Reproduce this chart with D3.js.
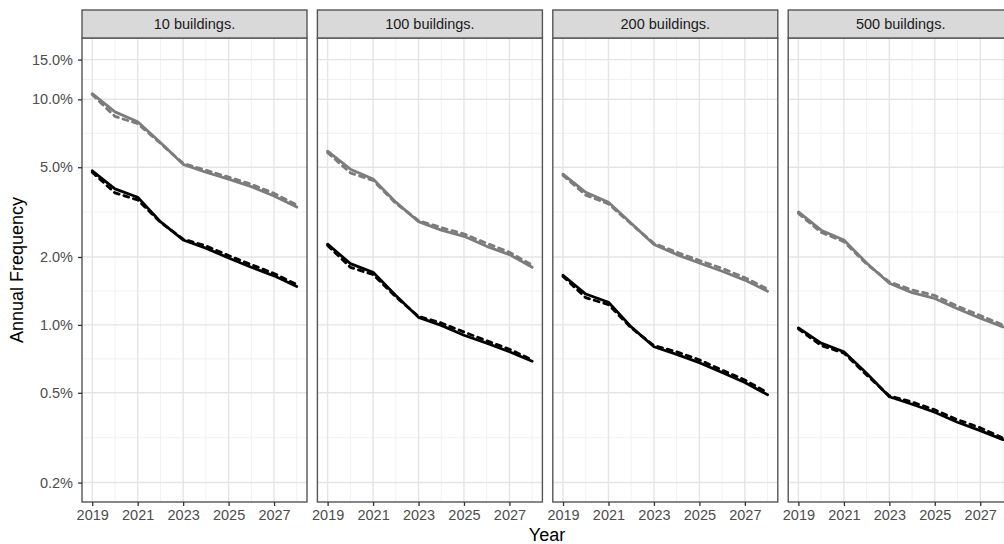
<!DOCTYPE html>
<html>
<head>
<meta charset="utf-8">
<script src="https://cdn.jsdelivr.net/npm/d3@7"></script>
<style>
  html, body { margin: 0; padding: 0; background: #fff; overflow: hidden; }
  svg { display: block; font-family: "Liberation Sans", Arial, sans-serif; }
</style>
</head>
<body>
<svg id="chart" width="1004" height="544"></svg>
<script>
// ---- data ----
const years = [2019, 2020, 2021, 2022, 2023, 2024, 2025, 2026, 2027, 2028];
const panelLabels = ["10 buildings.", "100 buildings.", "200 buildings.", "500 buildings."];
const yTickValues = [0.2, 0.5, 1, 2, 5, 10, 15];
const yTickLabels = ["0.2%", "0.5%", "1.0%", "2.0%", "5.0%", "10.0%", "15.0%"];
const xTickValues = [2019, 2021, 2023, 2025, 2027];

// annual frequency (%) per panel
const graySolid10  = [10.6, 8.8, 7.96, 6.43, 5.15, 4.75, 4.43, 4.10, 3.73, 3.33];
const grayDashed10 = [10.5, 8.4, 7.8, 6.38, 5.2, 4.85, 4.52, 4.20, 3.83, 3.40];
const blackSolid10  = [4.82, 4.01, 3.68, 2.87, 2.38, 2.19, 1.98, 1.80, 1.65, 1.48];
const blackDashed10 = [4.75, 3.85, 3.58, 2.85, 2.40, 2.24, 2.03, 1.85, 1.69, 1.51];

const graySolid100  = [5.89, 4.90, 4.43, 3.50, 2.87, 2.63, 2.47, 2.23, 2.05, 1.80];
const grayDashed100 = [5.8, 4.72, 4.37, 3.46, 2.9, 2.7, 2.53, 2.3, 2.1, 1.84];
const blackSolid100  = [2.28, 1.87, 1.71, 1.35, 1.08, 0.995, 0.90, 0.83, 0.76, 0.69];
const blackDashed100 = [2.25, 1.80, 1.67, 1.33, 1.09, 1.02, 0.93, 0.85, 0.78, 0.70];

const graySolid200  = [4.66, 3.87, 3.50, 2.82, 2.27, 2.05, 1.88, 1.73, 1.58, 1.41];
const grayDashed200 = [4.6, 3.76, 3.44, 2.8, 2.3, 2.1, 1.93, 1.78, 1.62, 1.44];
const blackSolid200  = [1.66, 1.37, 1.26, 0.98, 0.80, 0.74, 0.68, 0.615, 0.555, 0.49];
const blackDashed200 = [1.64, 1.32, 1.23, 0.97, 0.81, 0.76, 0.70, 0.63, 0.57, 0.50];

const graySolid500  = [3.17, 2.63, 2.38, 1.88, 1.53, 1.39, 1.31, 1.18, 1.07, 0.98];
const grayDashed500 = [3.12, 2.57, 2.34, 1.86, 1.55, 1.43, 1.35, 1.21, 1.10, 1.0];
const blackSolid500  = [0.97, 0.83, 0.76, 0.61, 0.48, 0.445, 0.41, 0.37, 0.34, 0.31];
const blackDashed500 = [0.96, 0.81, 0.75, 0.60, 0.485, 0.455, 0.42, 0.38, 0.35, 0.315];

const panelSeries = [
  [graySolid10, grayDashed10, blackSolid10, blackDashed10],
  [graySolid100, grayDashed100, blackSolid100, blackDashed100],
  [graySolid200, grayDashed200, blackSolid200, blackDashed200],
  [graySolid500, grayDashed500, blackSolid500, blackDashed500]
];

// ---- layout ----
const svg = d3.select("#chart");
const left0 = 82, panelW = 225, gap = 10.4;
const stripTop = 10, stripH = 28;
const pTop = stripTop + stripH, pBottom = 502;

const x = d3.scaleLinear().domain([2018.55, 2028.45]).range([0, panelW]);
const y = d3.scaleLog().domain([0.164, 18.7]).range([pBottom, pTop]);

// minor breaks (midpoints in log space, ggplot style)
const lb = yTickValues.map(Math.log10);
const bd = lb[1] - lb[0];
const ext = [lb[0] - bd, ...lb, lb[lb.length - 1] + bd];
const yMinor = [];
for (let i = 0; i < ext.length - 1; i++) {
  const v = Math.pow(10, (ext[i] + ext[i + 1]) / 2);
  if (v > y.domain()[0] && v < y.domain()[1]) yMinor.push(v);
}
const xMinor = [2020, 2022, 2024, 2026, 2028];

const seriesStyle = [
  { color: "#7c7c7c", dash: null },
  { color: "#7c7c7c", dash: "5,5" },
  { color: "#000000", dash: null },
  { color: "#000000", dash: "5,5" }
];

const line = d3.line()
  .x((d, i) => x(years[i]))
  .y(d => y(d));

panelLabels.forEach((lab, pi) => {
  const g = svg.append("g").attr("transform", `translate(${left0 + pi * (panelW + gap)},0)`);

  g.append("rect").attr("x", 0).attr("y", pTop).attr("width", panelW).attr("height", pBottom - pTop)
    .attr("fill", "#fff");

  // minor grid
  g.selectAll(".ymin").data(yMinor).enter().append("line")
    .attr("x1", 0).attr("x2", panelW).attr("y1", d => y(d)).attr("y2", d => y(d))
    .attr("stroke", "#efefef").attr("stroke-width", 0.9);
  g.selectAll(".xmin").data(xMinor).enter().append("line")
    .attr("y1", pTop).attr("y2", pBottom).attr("x1", d => x(d)).attr("x2", d => x(d))
    .attr("stroke", "#efefef").attr("stroke-width", 0.9);
  // major grid
  g.selectAll(".ymaj").data(yTickValues).enter().append("line")
    .attr("x1", 0).attr("x2", panelW).attr("y1", d => y(d)).attr("y2", d => y(d))
    .attr("stroke", "#e5e5e5").attr("stroke-width", 1.4);
  g.selectAll(".xmaj").data(xTickValues).enter().append("line")
    .attr("y1", pTop).attr("y2", pBottom).attr("x1", d => x(d)).attr("x2", d => x(d))
    .attr("stroke", "#e5e5e5").attr("stroke-width", 1.4);

  // series (dashed first, solid on top)
  [1, 3, 0, 2].forEach(si => {
    const st = seriesStyle[si];
    g.append("path").datum(panelSeries[pi][si])
      .attr("d", line)
      .attr("fill", "none")
      .attr("stroke", st.color)
      .attr("stroke-width", 2.8)
      .attr("stroke-linejoin", "round")
      .attr("stroke-linecap", "round")
      .attr("stroke-dasharray", st.dash);
  });

  // panel border
  g.append("rect").attr("x", 0).attr("y", pTop).attr("width", panelW).attr("height", pBottom - pTop)
    .attr("fill", "none").attr("stroke", "#555").attr("stroke-width", 1.4);

  // strip
  g.append("rect").attr("x", 0).attr("y", stripTop).attr("width", panelW).attr("height", stripH)
    .attr("fill", "#d9d9d9").attr("stroke", "#555").attr("stroke-width", 1.4);
  g.append("text").attr("x", panelW / 2).attr("y", stripTop + stripH / 2 + 5)
    .attr("text-anchor", "middle").attr("font-size", 14.5).attr("fill", "#1a1a1a").text(lab);

  // x axis
  const xa = g.append("g").attr("transform", `translate(0,${pBottom})`)
    .call(d3.axisBottom(x).tickValues(xTickValues).tickFormat(d3.format("d")).tickSize(4).tickPadding(4));
  xa.select(".domain").remove();
  xa.selectAll("line").attr("stroke", "#333").attr("stroke-width", 1.3);
  xa.selectAll("text").attr("font-size", 14.5).attr("fill", "#4d4d4d")
    .attr("font-family", "Liberation Sans, Arial, sans-serif");

  // y axis on first panel
  if (pi === 0) {
    const ya = g.append("g")
      .call(d3.axisLeft(y).tickValues(yTickValues).tickFormat((d, i) => yTickLabels[i]).tickSize(4).tickPadding(5));
    ya.select(".domain").remove();
    ya.selectAll("line").attr("stroke", "#333").attr("stroke-width", 1.3);
    ya.selectAll("text").attr("font-size", 14.5).attr("fill", "#4d4d4d")
      .attr("font-family", "Liberation Sans, Arial, sans-serif");
  }
});

// axis titles
svg.append("text").attr("x", 547).attr("y", 541).attr("text-anchor", "middle")
  .attr("font-size", 18).attr("fill", "#000").text("Year");
svg.append("text").attr("transform", `translate(23,${(pTop + pBottom) / 2}) rotate(-90)`)
  .attr("text-anchor", "middle").attr("font-size", 18).attr("fill", "#000").text("Annual Frequency");
</script>
</body>
</html>
